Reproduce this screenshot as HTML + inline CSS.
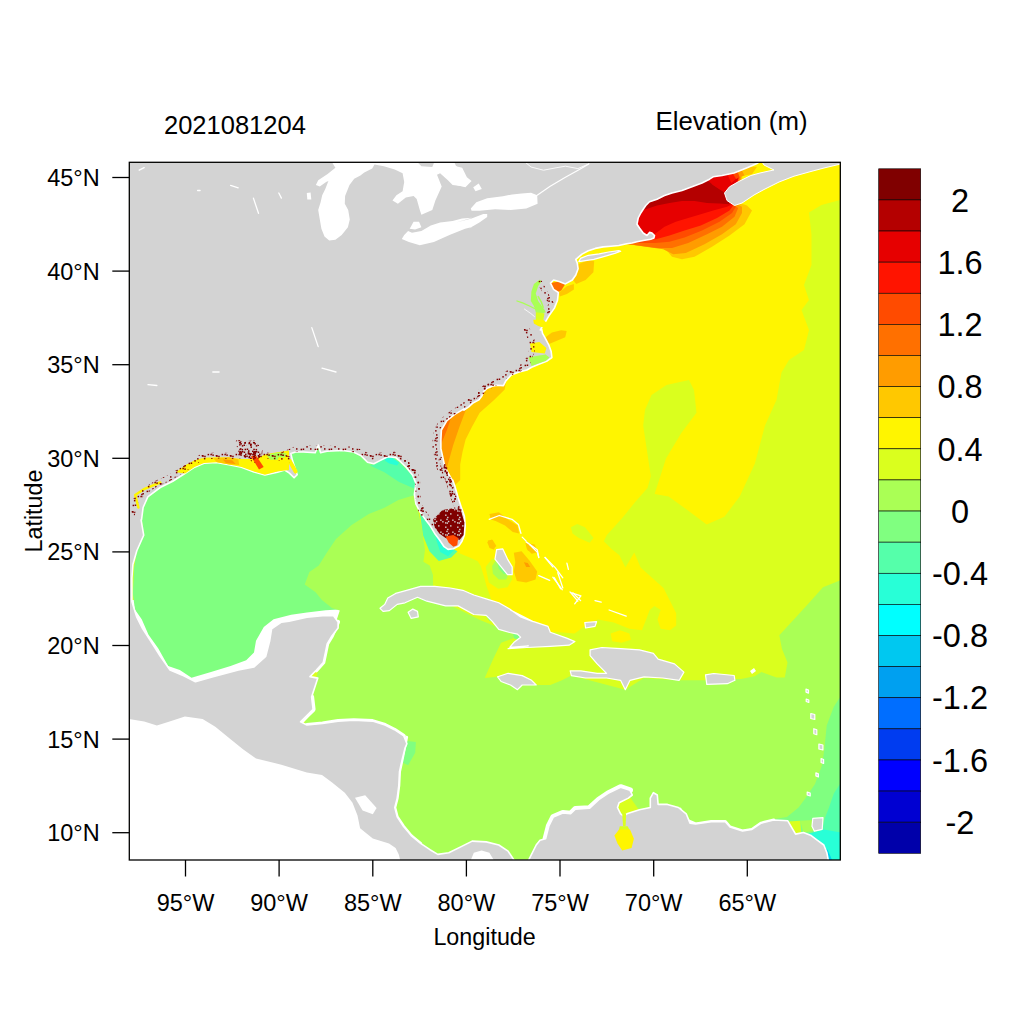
<!DOCTYPE html>
<html><head><meta charset="utf-8"><style>
html,body{margin:0;padding:0;background:#fff;width:1024px;height:1024px;overflow:hidden}
svg text{font-family:"Liberation Sans",sans-serif;fill:#000}
</style></head><body>
<svg width="1024" height="1024" viewBox="0 0 1024 1024" style="position:absolute;left:0;top:0">
<defs><pattern id="dots" width="14" height="14" patternUnits="userSpaceOnUse"><rect x="5.7" y="7.0" width="1.5" height="1.5" fill="#800000"/><rect x="11.6" y="5.8" width="1.5" height="1.5" fill="#800000"/><rect x="6.3" y="7.3" width="1.5" height="1.5" fill="#800000"/><rect x="2.3" y="6.4" width="1.5" height="1.5" fill="#800000"/><rect x="7.9" y="9.9" width="1.5" height="1.5" fill="#800000"/><rect x="1.2" y="3.8" width="1.5" height="1.5" fill="#800000"/><rect x="1.1" y="10.1" width="1.5" height="1.5" fill="#800000"/><rect x="8.7" y="0.5" width="1.5" height="1.5" fill="#800000"/><rect x="12.3" y="12.1" width="1.5" height="1.5" fill="#800000"/><rect x="8.2" y="7.7" width="1.5" height="1.5" fill="#800000"/><rect x="2.0" y="0.2" width="1.5" height="1.5" fill="#800000"/><rect x="6.6" y="0.7" width="1.5" height="1.5" fill="#800000"/><rect x="2.4" y="3.0" width="1.5" height="1.5" fill="#800000"/><rect x="0.4" y="5.8" width="1.5" height="1.5" fill="#800000"/></pattern><pattern id="dots2" width="14" height="14" patternUnits="userSpaceOnUse"><rect x="5.5" y="10.5" width="1.5" height="1.5" fill="#800000"/><rect x="6.5" y="8.0" width="1.5" height="1.5" fill="#800000"/><rect x="6.2" y="8.3" width="1.5" height="1.5" fill="#800000"/><rect x="5.7" y="3.5" width="1.5" height="1.5" fill="#800000"/><rect x="12.5" y="12.4" width="1.5" height="1.5" fill="#800000"/><rect x="10.5" y="8.8" width="1.5" height="1.5" fill="#800000"/><rect x="3.9" y="2.9" width="1.5" height="1.5" fill="#800000"/><rect x="3.6" y="0.9" width="1.5" height="1.5" fill="#800000"/><rect x="9.6" y="5.0" width="1.5" height="1.5" fill="#800000"/><rect x="10.6" y="4.8" width="1.5" height="1.5" fill="#800000"/><rect x="12.0" y="10.6" width="1.5" height="1.5" fill="#800000"/><rect x="0.0" y="2.6" width="1.5" height="1.5" fill="#800000"/><rect x="11.4" y="5.9" width="1.5" height="1.5" fill="#800000"/><rect x="12.3" y="5.0" width="1.5" height="1.5" fill="#800000"/><rect x="0.9" y="7.9" width="1.5" height="1.5" fill="#800000"/><rect x="9.7" y="3.4" width="1.5" height="1.5" fill="#800000"/><rect x="1.1" y="4.2" width="1.5" height="1.5" fill="#800000"/><rect x="12.1" y="9.5" width="1.5" height="1.5" fill="#800000"/><rect x="1.5" y="3.1" width="1.5" height="1.5" fill="#800000"/><rect x="1.3" y="0.7" width="1.5" height="1.5" fill="#800000"/><rect x="10.0" y="2.2" width="1.5" height="1.5" fill="#800000"/><rect x="7.0" y="5.6" width="1.5" height="1.5" fill="#800000"/><rect x="2.4" y="9.1" width="1.5" height="1.5" fill="#800000"/><rect x="1.6" y="8.0" width="1.5" height="1.5" fill="#800000"/><rect x="1.5" y="5.3" width="1.5" height="1.5" fill="#800000"/><rect x="2.7" y="3.4" width="1.5" height="1.5" fill="#800000"/><rect x="12.1" y="10.0" width="1.5" height="1.5" fill="#800000"/><rect x="3.8" y="11.1" width="1.5" height="1.5" fill="#800000"/><rect x="2.6" y="4.9" width="1.5" height="1.5" fill="#800000"/><rect x="10.7" y="8.0" width="1.5" height="1.5" fill="#800000"/></pattern><pattern id="drspeck" width="12" height="12" patternUnits="userSpaceOnUse"><rect width="12" height="12" fill="#800000"/><rect x="1.1" y="10.5" width="1.4" height="1.4" fill="#d3d3d3"/><rect x="2.3" y="2.7" width="1.4" height="1.4" fill="#d3d3d3"/><rect x="8.2" y="3.5" width="1.4" height="1.4" fill="#d3d3d3"/><rect x="3.1" y="0.8" width="1.4" height="1.4" fill="#d3d3d3"/><rect x="1.0" y="6.2" width="1.4" height="1.4" fill="#d3d3d3"/><rect x="2.6" y="6.4" width="1.4" height="1.4" fill="#d3d3d3"/><rect x="3.9" y="4.8" width="1.4" height="1.4" fill="#d3d3d3"/><rect x="10.2" y="5.1" width="1.4" height="1.4" fill="#d3d3d3"/><rect x="6.1" y="9.2" width="1.4" height="1.4" fill="#d3d3d3"/></pattern></defs>
<clipPath id="pc"><rect x="129.3" y="162.3" width="711" height="697.7"/></clipPath>
<g clip-path="url(#pc)"><path d="M129.0 162.0 L841.0 162.0 L841.0 861.0 L129.0 861.0Z" fill="#daff1e"/>
<path d="M129.0 495.0 L129.0 700.0 L260.0 700.0 L345.0 615.0 L345.0 600.0 L129.0 600.0Z" fill="#ffffff"/>
<path d="M416.0 495.0 L430.0 470.0 L400.0 430.0 L129.0 430.0 L129.0 500.0 L144.6 500.0 L140.7 511.7 L143.7 535.2 L136.8 550.8 L133.9 568.4 L132.9 593.8 L134.9 609.4 L141.7 619.2 L148.5 634.8 L158.3 648.5 L168.1 666.0 L179.8 670.0 L191.5 677.8 L211.0 671.9 L230.6 666.0 L246.2 660.2 L254.0 652.4 L256.0 640.7 L263.8 627.0 L273.6 619.2 L291.2 614.8 L306.9 612.5 L325.6 610.2 L338.0 609.4 L360.0 580.0 L400.0 520.0Z" fill="#80ff80"/>
<path d="M416.0 495.0 L409.7 496.6 L398.4 500.0 L384.4 507.8 L368.8 514.0 L351.6 525.0 L336.0 539.0 L326.6 553.1 L318.8 565.6 L309.4 571.9 L304.7 584.4 L315.6 592.2 L321.9 600.0 L332.0 607.9 L339.8 610.5 L336.0 622.0 L327.0 640.0 L321.0 660.0 L313.0 690.0 L306.0 720.0 L295.0 740.0 L300.0 870.0 L850.0 870.0 L850.0 576.4 L823.0 587.3 L809.4 602.4 L795.7 617.4 L779.3 635.2 L782.0 648.9 L787.5 662.5 L784.8 677.6 L776.6 677.6 L761.5 672.1 L754.7 676.2 L741.0 679.0 L705.0 680.3 L679.2 680.3 L644.0 678.0 L625.3 689.7 L571.4 675.6 L562.0 680.3 L550.3 685.0 L536.2 685.0 L497.6 676.8 L484.7 678.0 L494.1 656.9 L501.1 642.8 L519.8 635.8 L480.0 620.0 L440.0 600.0 L433.0 592.0 L433.0 575.0 L429.7 565.6 L423.4 561.7 L425.0 550.0 L422.0 530.0 L418.0 510.0Z" fill="#aaff55"/>
<path d="M450.0 150.0 L845.0 150.0 L845.0 198.8 L821.5 205.0 L809.0 212.5 L811.5 235.0 L811.5 265.0 L804.0 285.0 L809.0 300.0 L801.5 310.0 L809.0 330.0 L804.0 350.0 L789.0 360.0 L781.5 372.5 L776.5 400.0 L765.0 425.4 L754.9 463.5 L739.7 496.5 L724.4 516.8 L706.7 524.4 L686.3 509.2 L668.6 496.5 L654.6 494.0 L666.0 458.4 L681.3 433.0 L696.5 412.7 L694.0 390.0 L689.0 380.0 L666.5 385.0 L651.5 395.0 L645.0 410.0 L643.2 425.4 L650.8 476.2 L647.5 488.1 L635.0 502.2 L622.5 517.8 L606.9 535.0 L603.8 541.2 L611.6 549.1 L619.4 555.3 L625.4 567.6 L634.3 552.4 L640.6 567.6 L663.5 587.9 L676.2 613.3 L676.2 625.6 L670.0 630.3 L660.6 628.8 L657.5 619.4 L660.6 610.0 L654.4 606.1 L649.7 610.0 L645.0 622.5 L641.9 630.3 L629.4 628.8 L613.8 622.5 L598.0 619.4 L585.6 625.6 L574.7 633.4 L556.0 631.9 L548.0 632.0 L530.0 623.0 L510.0 613.0 L491.8 601.0 L488.6 591.8 L486.3 585.5 L484.7 579.2 L482.4 571.4 L480.8 566.0 L477.7 561.3 L471.4 558.2 L463.6 555.0 L458.2 552.7 L430.0 540.0 L430.0 450.0Z" fill="#fff500"/>
<path d="M570.9 527.2 L577.2 524.0 L585.0 527.2 L593.6 538.1 L589.7 542.8 L578.8 538.1 L572.5 533.4Z" fill="#daff1e"/>
<path d="M850.0 690.0 L840.0 697.3 L833.8 706.7 L826.7 725.5 L824.4 748.9 L822.0 765.3 L815.0 784.0 L805.6 798.1 L798.6 807.5 L786.9 816.9 L772.8 819.2 L760.0 830.0 L760.0 870.0 L850.0 870.0Z" fill="#80ff80"/>
<path d="M850.0 784.0 L840.0 784.0 L833.8 793.4 L829.0 807.5 L824.4 819.2 L822.0 831.0 L818.0 845.0 L850.0 850.0Z" fill="#55ffaa"/>
<path d="M800.0 836.0 L823.8 829.4 L850.0 834.0 L850.0 870.0 L800.0 870.0Z" fill="#28ffd7"/>
<path d="M823.0 848.1 L827.7 849.7 L832.3 860.6 L824.5 860.6Z" fill="#00d2f0"/>
<path d="M787.8 821.6 L800.3 820.8 L801.1 832.5 L796.4 835.6Z" fill="#daff1e"/>
<path d="M800.3 820.8 L812.8 820.0 L812.8 830.9 L803.4 832.5Z" fill="#aaff55"/>
<path d="M374.6 464.4 L384.4 458.6 L399.1 462.5 L405.9 469.3 L412.7 475.2 L415.7 481.0 L414.7 488.8 L399.1 482.0 L384.4 472.2 L369.8 465.4Z" fill="#55ffaa"/>
<path d="M384.4 458.6 L391.2 457.1 L399.1 462.5 L397.1 465.4 L389.3 463.4 L385.4 461.0Z" fill="#28ffd7"/>
<path d="M420.0 513.8 L434.1 516.9 L443.4 537.2 L451.2 548.1 L457.5 551.2 L451.2 557.5 L438.8 560.9 L429.4 551.2 L423.1 535.6Z" fill="#55ffaa"/>
<path d="M434.8 529.4 L445.0 543.4 L454.4 549.7 L448.1 556.2 L440.3 552.0 L436.4 540.3Z" fill="#28ffd7"/>
<path d="M506.2 380.0 L504.7 389.4 L493.8 400.3 L479.7 412.8 L471.9 426.9 L465.6 439.4 L462.5 451.9 L460.2 464.4 L460.2 480.0 L455.0 485.0 L446.9 485.0 L446.9 380.0Z" fill="#ffc800"/>
<path d="M465.6 410.5 L459.4 426.9 L453.1 445.6 L446.9 467.5 L443.8 481.6 L439.1 481.6 L439.1 380.0 L465.6 380.0Z" fill="#ff9c00"/>
<path d="M451.6 415.9 L446.9 430.0 L440.6 445.6 L439.1 455.0 L431.2 455.0 L431.2 380.0 L451.6 380.0Z" fill="#ff7000"/>
<path d="M545.6 337.2 L551.9 332.5 L561.2 330.2 L566.7 330.9 L565.2 337.2 L558.1 340.3 L550.3 343.4 L547.2 343.4Z" fill="#ffc800"/>
<path d="M577.8 264.4 L588.8 259.7 L594.2 261.2 L593.4 272.2 L585.6 280.0 L576.2 283.9 L573.1 280.0 L577.0 272.2Z" fill="#ffc800"/>
<path d="M559.1 292.5 L566.9 286.2 L573.9 283.9 L573.9 289.4 L566.9 294.1 L559.8 296.4Z" fill="#ffc800"/>
<path d="M550.5 283.1 L559.1 281.6 L565.3 283.9 L561.4 290.2 L557.5 292.5 L552.8 289.4Z" fill="#ff7000"/>
<path d="M485.6 566.9 L491.9 559.1 L501.2 557.5 L510.6 566.9 L512.2 579.4 L507.5 587.2 L498.1 588.8 L488.8 582.5Z" fill="#daff1e"/>
<path d="M492.1 566.0 L495.7 560.5 L502.7 562.8 L508.5 573.8 L506.2 579.6 L498.8 579.6 L492.9 573.8Z" fill="#aaff55"/>
<path d="M497.2 561.7 L502.7 563.6 L507.8 573.4 L504.2 574.2 L498.8 568.7Z" fill="#80ff80"/>
<path d="M487.2 541.9 L491.9 539.5 L495.0 545.0 L494.2 549.7 L489.5 548.1Z" fill="#ffc800"/>
<path d="M513.8 552.8 L521.6 551.2 L529.4 560.6 L537.2 571.6 L535.6 579.4 L526.2 582.5 L516.9 580.9 L513.8 571.6 L515.3 562.2Z" fill="#ffc800"/>
<path d="M523.9 562.2 L527.8 563.0 L530.2 566.9 L526.2 566.9Z" fill="#ff9c00"/>
<path d="M526.2 545.0 L532.5 544.2 L537.2 549.7 L534.1 552.0 L527.8 550.5Z" fill="#ffc800"/>
<path d="M489.4 513.9 L498.8 512.3 L508.1 519.4 L517.5 525.6 L519.1 533.4 L512.8 531.9 L505.0 525.6 L495.6 520.9 L490.9 519.4Z" fill="#ffc800"/>
<path d="M487.8 540.5 L492.5 539.7 L496.4 545.9 L493.3 549.1 L489.4 546.7Z" fill="#ffc800"/>
<path d="M525.3 542.8 L534.7 544.4 L537.8 552.2 L531.6 553.8 L526.9 549.1Z" fill="#ffc800"/>
<path d="M610.6 633.4 L620.0 630.3 L629.4 633.4 L630.9 639.7 L621.6 642.8 L612.2 641.2Z" fill="#fff500"/>
<path d="M419.1 595.8 L434.7 596.6 L433.1 601.2 L423.8 601.2Z" fill="#80ff80"/>
<path d="M486.2 616.1 L492.5 616.9 L493.3 621.6 L489.4 620.8Z" fill="#80ff80"/>
<path d="M512.8 633.3 L520.6 635.6 L519.8 639.5 L514.4 638.8Z" fill="#80ff80"/>
<path d="M407.3 741.1 L415.9 741.9 L415.2 752.8 L408.1 765.3 L401.9 762.2 L405.0 751.2Z" fill="#80ff80"/>
<path d="M617.5 802.8 L630.0 797.3 L639.4 810.6 L626.9 814.5 L619.8 813.0Z" fill="#daff1e"/>
<path d="M619.5 243.0 L665.8 249.2 L672.0 256.8 L682.0 259.2 L694.5 256.8 L712.0 246.8 L729.5 235.5 L744.5 224.2 L752.0 210.5 L747.0 205.5 L739.5 203.0 L744.5 155.5 L619.5 155.5Z" fill="#ffc800"/>
<path d="M619.5 243.0 L663.2 249.2 L673.2 254.2 L685.8 253.0 L704.5 244.2 L722.0 234.2 L735.8 224.2 L742.0 213.0 L742.0 206.8 L737.0 204.2 L744.5 155.5 L619.5 155.5Z" fill="#ff9c00"/>
<path d="M619.5 243.0 L657.0 248.0 L672.0 248.0 L688.2 243.0 L707.0 234.2 L722.0 226.8 L734.5 216.8 L738.2 208.0 L734.5 205.5 L744.5 155.5 L619.5 155.5Z" fill="#ff7000"/>
<path d="M619.5 243.0 L655.1 243.0 L669.5 241.8 L684.5 237.4 L702.0 230.5 L719.5 221.8 L732.0 213.0 L735.8 206.8 L732.0 204.2 L744.5 155.5 L619.5 155.5Z" fill="#ff4b00"/>
<path d="M619.5 240.5 L655.8 239.2 L669.5 235.5 L684.5 230.5 L700.8 225.5 L717.0 218.0 L729.5 210.5 L733.2 205.5 L732.0 203.0 L744.5 155.5 L619.5 155.5Z" fill="#ff1400"/>
<path d="M619.5 238.0 L654.5 234.2 L664.5 226.8 L675.8 221.8 L688.2 218.0 L700.8 214.2 L713.2 210.5 L727.0 206.8 L730.8 204.9 L744.5 155.5 L619.5 155.5Z" fill="#e60000"/>
<path d="M619.5 209.2 L645.8 209.2 L657.0 205.5 L669.5 203.0 L682.0 201.1 L694.5 201.1 L707.0 203.0 L719.5 203.6 L729.5 204.2 L727.0 193.0 L719.5 189.2 L712.0 184.2 L707.0 155.5 L619.5 155.5Z" fill="#b40000"/>
<path d="M707.0 179.9 L719.5 174.9 L727.0 173.6 L732.0 183.0 L724.5 192.4 L713.2 184.9Z" fill="#e60000"/>
<path d="M727.0 173.6 L732.0 172.4 L736.4 178.6 L731.4 183.0Z" fill="#ff1400"/>
<path d="M732.0 172.4 L737.0 170.8 L740.1 177.0 L736.1 179.0Z" fill="#ff4b00"/>
<path d="M737.0 170.8 L742.0 169.2 L745.1 175.2 L739.8 177.2Z" fill="#ff9c00"/>
<path d="M741.4 169.5 L748.2 166.8 L757.0 166.8 L752.0 174.2 L744.5 175.5Z" fill="#ffc800"/>
<path d="M545.6 838.8 L548.8 826.2 L553.4 816.9 L562.8 813.0 L570.6 813.8 L575.3 809.1 L589.4 808.3 L598.8 799.7 L608.1 793.4 L620.6 787.2 L630.0 790.3" fill="none" stroke="#ffffff" stroke-width="6" stroke-linecap="round" stroke-linejoin="round"/>
<path d="M306.9 725.0 L322.5 723.4 L338.1 721.1 L353.8 720.3 L372.5 721.1 L385.0 725.0 L394.4 729.7 L403.8 735.9" fill="none" stroke="#ffffff" stroke-width="4" stroke-linecap="round" stroke-linejoin="round"/>
<path d="M338.1 621.9 L331.9 635.9 L327.2 643.8 L325.6 651.6 L323.3 662.5 L316.2 670.3" fill="none" stroke="#ffffff" stroke-width="4" stroke-linecap="round" stroke-linejoin="round"/>
<path d="M311.6 696.9 L313.1 709.4 L306.9 715.6 L300.6 721.9" fill="none" stroke="#ffffff" stroke-width="5" stroke-linecap="round" stroke-linejoin="round"/>
<path d="M406.6 737.2 L401.9 760.6 L399.5 771.6 L398.8 785.6 L397.2 798.1 L394.8 807.5 L397.2 816.9 L403.4 826.2 L411.2 835.6 L420.6 843.4" fill="none" stroke="#ffffff" stroke-width="3" stroke-linecap="round" stroke-linejoin="round"/>
<path d="M680.0 809.1 L686.2 820.0 L695.6 823.9 L711.2 821.6 L725.3 821.6 L730.0 827.0 L742.5 830.9 L751.9 829.4 L761.2 823.1 L773.8 820.0" fill="none" stroke="#ffffff" stroke-width="3" stroke-linecap="round" stroke-linejoin="round"/>
<path d="M841.5 157.5 L841.5 163.8 L824.0 168.0 L809.0 172.0 L794.0 176.2 L779.0 182.0 L764.0 189.5 L754.0 195.0 L742.0 203.0 L734.5 205.5 L727.0 200.5 L724.5 193.0 L729.5 186.8 L738.2 181.8 L750.8 175.5 L760.0 173.0 L769.0 171.0 L774.0 170.0 L764.0 165.0 L759.0 157.5Z" fill="#d3d3d3" stroke="#ffffff" stroke-width="1" stroke-linejoin="round"/>
<path d="M759.0 150.0 L759.0 162.0 L756.5 163.8 L746.5 168.0 L734.0 173.0 L722.0 175.5 L713.2 176.8 L709.5 179.2 L702.0 183.0 L692.0 186.8 L682.0 190.5 L672.0 193.0 L664.5 195.5 L657.0 199.2 L649.5 201.8 L645.8 205.5 L643.2 209.2 L640.8 213.0 L638.2 218.0 L637.0 224.2 L639.5 228.0 L643.2 233.0 L647.0 235.5 L649.5 232.4 L652.0 233.0 L654.5 235.5 L653.9 238.0 L650.8 239.2 L643.2 240.5 L637.0 241.8 L632.0 243.0 L626.6 243.8 L618.8 245.5 L610.9 246.2 L603.1 246.9 L595.3 248.4 L588.3 250.8 L582.0 254.1 L575.8 259.4 L577.3 263.3 L578.1 268.8 L575.8 275.0 L572.3 280.0 L565.3 283.9 L559.1 281.6 L553.6 280.0 L550.5 283.1 L553.6 289.4 L558.3 292.5 L557.5 300.3 L554.4 308.1 L548.9 315.9 L544.2 323.8 L540.3 330.0 L541.7 329.4 L542.5 333.3 L545.6 338.8 L548.8 345.0 L551.1 351.2 L551.9 357.5 L547.2 360.9 L539.4 364.1 L531.6 367.2 L526.9 370.0 L519.1 371.9 L511.2 375.0 L505.8 380.9 L503.4 385.6 L496.8 385.3 L492.1 386.3 L487.4 388.2 L483.7 391.4 L481.8 396.1 L479.0 399.9 L473.4 402.7 L468.7 406.9 L464.0 410.2 L464.1 408.9 L454.7 414.4 L446.9 420.6 L441.4 430.0 L440.9 439.4 L440.9 448.8 L443.0 458.1 L445.0 467.5 L452.0 480.0 L452.7 480.0 L455.0 486.6 L458.1 497.5 L461.2 506.9 L464.4 516.2 L465.2 525.6 L464.4 535.0 L462.0 541.2 L458.9 545.9 L453.4 548.8 L448.0 549.4 L444.1 546.7 L439.4 539.7 L434.7 533.4 L430.0 525.6 L425.3 519.4 L419.8 511.6 L415.9 503.8 L414.4 494.4 L415.9 483.4 L412.8 475.6 L406.6 467.8 L398.8 460.0 L395.6 457.5 L387.8 456.7 L380.0 460.6 L373.8 463.8 L367.5 462.2 L361.2 455.9 L353.4 452.0 L342.5 450.5 L326.9 451.2 L320.6 452.8 L318.3 445.0 L315.2 452.8 L303.4 452.0 L295.6 452.0 L290.9 453.6 L292.5 460.6 L297.2 474.7 L294.1 477.8 L289.4 473.1 L284.7 470.0 L277.4 472.3 L264.9 475.0 L254.0 471.9 L241.5 467.2 L229.0 464.8 L216.5 462.5 L204.0 463.3 L194.6 467.2 L185.2 473.4 L172.8 481.2 L160.2 487.5 L147.8 496.9 L143.1 507.5 L141.5 520.0 L141.1 519.9 L143.7 535.2 L136.8 550.8 L132.9 564.5 L131.9 578.1 L131.9 601.6 L136.8 617.2 L142.7 628.9 L150.5 640.7 L160.3 656.3 L170.0 670.0 L183.7 675.8 L195.4 681.7 L213.0 676.8 L238.4 670.0 L254.0 667.0 L265.7 656.3 L269.7 640.7 L271.6 628.9 L281.4 622.1 L289.0 621.1 L306.9 617.2 L322.5 615.6 L333.4 615.6 L338.1 621.9 L338.1 628.1 L331.9 635.9 L327.2 643.8 L325.6 651.6 L323.3 662.5 L316.2 670.3 L310.0 676.6 L317.8 678.1 L311.6 696.9 L313.1 709.4 L306.9 715.6 L300.6 721.9 L306.9 725.0 L322.5 723.4 L338.1 721.1 L353.8 720.3 L372.5 721.1 L385.0 725.0 L394.4 729.7 L403.8 735.9 L406.9 743.8 L405.0 748.1 L401.9 760.6 L399.5 771.6 L398.8 785.6 L397.2 798.1 L394.8 807.5 L397.2 816.9 L403.4 826.2 L411.2 835.6 L420.6 843.4 L430.0 849.7 L437.8 854.4 L448.8 852.8 L461.2 846.6 L472.2 841.1 L486.2 841.9 L498.8 845.0 L508.1 851.2 L514.4 860.6 L528.4 860.6 L536.2 845.0 L540.0 840.3 L545.6 838.8 L548.8 826.2 L553.4 816.9 L562.8 813.0 L570.6 813.8 L575.3 809.1 L589.4 808.3 L598.8 799.7 L608.1 793.4 L620.6 787.2 L630.0 790.3 L632.3 795.0 L628.4 798.1 L619.1 802.8 L617.5 807.5 L620.6 813.8 L623.8 816.1 L626.9 813.8 L639.4 809.8 L650.3 807.5 L650.3 798.1 L653.4 792.7 L657.3 795.0 L658.1 804.4 L667.5 804.4 L678.4 807.5 L686.2 813.8 L690.0 823.1 L695.6 823.9 L711.2 821.6 L725.3 821.6 L730.0 827.0 L742.5 830.9 L751.9 829.4 L761.2 823.1 L773.8 820.0 L787.8 820.8 L795.6 834.1 L803.4 832.5 L811.2 835.6 L817.5 840.3 L823.8 845.0 L826.9 852.8 L828.4 860.6 L860.0 870.0 L120.0 870.0 L120.0 150.0 L759.0 150.0Z" fill="#d3d3d3" stroke="#ffffff" stroke-width="1.6" stroke-linejoin="round"/>
<path d="M578.9 261.6 L580.5 258.4 L588.3 255.3 L599.2 253.8 L608.6 252.0 L618.8 250.6 L620.8 251.2 L614.8 253.4 L605.5 256.1 L593.8 259.4Z" fill="#d3d3d3" stroke="#ffffff" stroke-width="1.2" stroke-linejoin="round"/>
<path d="M380.0 608.3 L384.7 604.4 L387.8 598.1 L395.6 593.4 L406.6 590.3 L420.6 586.4 L434.7 586.4 L450.3 588.0 L462.8 590.3 L473.8 595.0 L486.2 598.9 L498.8 602.8 L509.7 609.1 L520.6 616.9 L533.1 621.6 L510.5 610.0 L526.9 619.4 L548.0 626.4 L550.3 632.3 L566.7 638.1 L574.9 641.6 L569.1 645.2 L550.3 646.3 L526.9 647.5 L508.1 648.7 L528.4 645.8 L509.7 647.3 L514.4 641.9 L520.6 637.2 L517.5 634.1 L509.7 632.5 L498.8 629.4 L492.5 621.6 L486.2 615.3 L473.8 614.5 L458.1 605.9 L445.6 605.9 L426.9 601.2 L417.5 597.3 L405.0 602.8 L397.2 604.4 L389.4 610.6 L383.1 611.4Z" fill="#d3d3d3" stroke="#ffffff" stroke-width="1.2" stroke-linejoin="round"/>
<path d="M408.1 612.2 L412.8 609.1 L417.5 611.4 L418.3 616.9 L411.2 618.4Z" fill="#d3d3d3" stroke="#ffffff" stroke-width="1.2" stroke-linejoin="round"/>
<path d="M497.6 676.8 L508.1 673.3 L522.2 675.6 L531.6 680.3 L536.2 685.0 L522.2 685.0 L517.5 689.7 L510.5 685.0 L501.1 681.5Z" fill="#d3d3d3" stroke="#ffffff" stroke-width="1.2" stroke-linejoin="round"/>
<path d="M590.1 649.8 L601.9 647.5 L620.6 648.7 L639.4 649.8 L653.4 653.4 L658.1 659.2 L674.5 663.9 L683.9 672.1 L679.2 680.3 L662.8 678.0 L644.0 676.8 L630.0 680.3 L625.3 689.7 L620.6 680.3 L606.6 678.0 L585.5 678.0 L571.4 675.6 L570.2 670.9 L580.8 670.9 L597.2 673.3 L606.6 673.3 L597.2 663.9 L590.1 655.7Z" fill="#d3d3d3" stroke="#ffffff" stroke-width="1.2" stroke-linejoin="round"/>
<path d="M705.5 674.8 L713.7 673.5 L734.2 675.5 L734.9 680.3 L727.3 683.7 L706.8 684.4Z" fill="#d3d3d3" stroke="#ffffff" stroke-width="1.2" stroke-linejoin="round"/>
<path d="M812.8 818.4 L823.0 817.7 L822.2 829.4 L814.4 831.2 L812.0 826.2Z" fill="#d3d3d3" stroke="#ffffff" stroke-width="1.2" stroke-linejoin="round"/>
<path d="M584.8 622.5 L596.6 621.7 L595.0 626.4 L585.6 628.0Z" fill="#d3d3d3" stroke="#ffffff" stroke-width="1.2" stroke-linejoin="round"/>
<path d="M496.6 549.7 L502.8 548.9 L507.5 559.1 L512.2 566.9 L512.2 574.7 L507.5 574.7 L501.2 566.9 L495.0 559.1Z" fill="#d3d3d3" stroke="#ffffff" stroke-width="1.2" stroke-linejoin="round"/>
<path d="M806.0 689.1 L808.5 690.1 L808.5 693.1 L806.0 692.1Z" fill="#d3d3d3" stroke="#ffffff" stroke-width="1.2" stroke-linejoin="round"/>
<path d="M806.2 699.0 L808.8 700.0 L808.8 702.5 L806.2 701.5Z" fill="#d3d3d3" stroke="#ffffff" stroke-width="1.2" stroke-linejoin="round"/>
<path d="M810.8 713.5 L814.8 714.5 L814.8 719.5 L810.8 718.5Z" fill="#d3d3d3" stroke="#ffffff" stroke-width="1.2" stroke-linejoin="round"/>
<path d="M813.8 728.7 L816.8 729.7 L816.8 734.7 L813.8 733.7Z" fill="#d3d3d3" stroke="#ffffff" stroke-width="1.2" stroke-linejoin="round"/>
<path d="M818.9 744.0 L822.9 745.0 L822.9 750.0 L818.9 749.0Z" fill="#d3d3d3" stroke="#ffffff" stroke-width="1.2" stroke-linejoin="round"/>
<path d="M821.1 758.5 L823.6 759.5 L823.6 763.5 L821.1 762.5Z" fill="#d3d3d3" stroke="#ffffff" stroke-width="1.2" stroke-linejoin="round"/>
<path d="M815.9 772.9 L818.4 773.9 L818.4 776.9 L815.9 775.9Z" fill="#d3d3d3" stroke="#ffffff" stroke-width="1.2" stroke-linejoin="round"/>
<path d="M807.2 792.0 L810.2 793.0 L810.2 796.0 L807.2 795.0Z" fill="#d3d3d3" stroke="#ffffff" stroke-width="1.2" stroke-linejoin="round"/>
<path d="M622.2 813.8 L626.1 813.8 L625.6 826.2 L623.1 826.2Z" fill="#daff1e"/>
<path d="M619.8 826.2 L627.7 826.2 L630.8 832.5 L618.3 832.5Z" fill="#daff1e"/>
<path d="M619.1 829.4 L630.0 829.4 L633.9 838.8 L631.6 848.1 L622.2 850.5 L617.5 843.4 L614.4 835.6Z" fill="#fff500"/>
<path d="M433.1 519.4 L442.5 510.0 L451.9 508.4 L461.2 511.6 L464.4 522.5 L463.6 535.0 L459.7 539.7 L453.4 541.2 L445.6 538.1 L439.4 533.4 L434.7 527.2Z" fill="url(#drspeck)"/>
<path d="M445.6 536.6 L453.4 535.0 L458.1 538.1 L457.3 545.2 L453.4 546.7 L448.8 542.8Z" fill="#ff4b00"/>
<path d="M539.5 279.8 L542.0 281.0 L538.2 286.0 L535.8 293.5 L538.2 301.0 L541.4 305.4 L544.5 309.8 L545.8 312.2 L542.0 313.5 L538.9 314.8 L535.8 312.2 L533.9 306.0 L530.8 301.0 L531.4 291.6 L533.9 284.1Z" fill="#aaff55"/>
<path d="M535.8 312.2 L542.0 312.9 L544.5 313.5 L543.2 321.0 L535.8 321.0Z" fill="#daff1e"/>
<path d="M533.2 319.8 L543.2 319.8 L548.2 324.1 L544.5 327.9 L538.2 326.0 L533.9 323.5Z" fill="#fff500"/>
<path d="M517.0 301.0 L522.6 302.9 L529.5 306.0 L534.5 308.5" fill="none" stroke="#aaff55" stroke-width="1.3" stroke-linecap="round" stroke-linejoin="round"/>
<path d="M524.5 309.1 L530.8 313.5 L534.5 316.6" fill="none" stroke="#ffffff" stroke-width="0.8" stroke-linecap="round" stroke-linejoin="round"/>
<path d="M538.2 296.6 L541.4 302.2 L543.2 307.2" fill="none" stroke="#aaff55" stroke-width="1.5" stroke-linecap="round" stroke-linejoin="round"/>
<path d="M528.4 357.5 L536.2 355.9 L545.6 354.4 L549.5 357.5 L545.6 360.9 L537.8 363.8 L531.6 366.1Z" fill="#aaff55"/>
<path d="M530.0 343.4 L539.4 341.9 L546.4 348.1 L544.8 353.6 L531.6 352.0Z" fill="#fff500"/>
<path d="M175.9 472.3 L185.2 465.3 L194.6 460.3 L204.0 457.8 L216.5 457.2 L229.0 457.5 L241.5 459.1 L254.0 459.1 L266.5 454.1 L279.0 452.0 L289.0 450.5 L289.0 470.0 L277.4 471.6 L264.9 474.7 L254.0 471.6 L241.5 466.9 L229.0 464.5 L216.5 462.2 L204.0 463.0 L194.6 466.9 L185.2 473.4Z" fill="#fff500"/>
<path d="M213.4 458.3 L229.0 457.2 L238.4 459.4 L239.2 465.0 L229.0 464.4 L216.5 461.9Z" fill="#ffc800"/>
<path d="M222.8 459.4 L232.1 460.3 L235.6 464.1 L225.9 463.1Z" fill="#ff9c00"/>
<path d="M250.9 456.2 L255.9 455.3 L263.7 466.9 L259.0 469.4Z" fill="#ff4b00"/>
<path d="M266.5 454.7 L279.0 452.5 L286.8 453.6 L282.9 459.8 L270.4 459.8Z" fill="#aaff55"/>
<path d="M238.4 441.9 L254.0 440.3 L262.6 448.9 L261.8 459.1 L247.8 459.1 L238.4 454.7Z" fill="url(#dots2)"/>
<path d="M280.0 459.1 L289.4 460.6 L295.6 471.6" fill="none" stroke="#fff500" stroke-width="4" stroke-linecap="round" stroke-linejoin="round"/>
<path d="M138.4 507.5 L135.2 495.0 L144.6 488.8 L160.2 482.5" fill="none" stroke="#fff500" stroke-width="2.5" stroke-linecap="round" stroke-linejoin="round"/>
<path d="M132.1 513.8 L135.2 501.2 L143.1 491.9 L155.6 484.1 L169.6 477.8 L182.1 470.0 L191.5 463.8 L200.9 457.5 L216.5 455.2 L229.0 455.9 L241.5 455.2 L254.0 453.6 L269.6 455.9 L289.0 459.1" fill="none" stroke="url(#dots)" stroke-width="6" stroke-linecap="round" stroke-linejoin="round"/>
<path d="M238.4 443.4 L247.8 451.2 L254.0 459.1" fill="none" stroke="url(#dots)" stroke-width="7" stroke-linecap="round" stroke-linejoin="round"/>
<path d="M280.0 455.9 L295.6 448.9 L311.2 448.1 L326.9 448.1 L350.3 448.9 L361.2 452.0 L370.6 457.5 L380.0 455.2 L392.5 453.6 L401.9 458.3 L409.7 465.3 L415.9 474.7 L418.3 487.2 L418.3 501.2 L422.2 515.3" fill="none" stroke="url(#dots)" stroke-width="5" stroke-linecap="round" stroke-linejoin="round"/>
<path d="M403.4 460.0 L412.8 469.4 L418.3 480.3 L417.5 494.4 L419.8 505.3 L426.9 516.2 L433.9 525.6" fill="none" stroke="url(#dots)" stroke-width="4" stroke-linecap="round" stroke-linejoin="round"/>
<path d="M441.7 460.0 L445.6 472.5 L449.5 483.4 L452.7 494.4 L455.8 503.8 L459.7 513.1" fill="none" stroke="url(#dots2)" stroke-width="6" stroke-linecap="round" stroke-linejoin="round"/>
<path d="M487.5 384.7 L478.1 394.1 L468.8 401.9 L459.4 408.1 L450.0 414.4 L442.2 420.6 L436.7 430.0 L435.2 439.4 L434.7 448.8 L436.2 458.1 L439.1 467.5 L443.0 480.0" fill="none" stroke="url(#dots)" stroke-width="5" stroke-linecap="round" stroke-linejoin="round"/>
<path d="M526.9 329.4 L531.6 340.3 L531.6 351.2 L526.9 363.8 L517.5 370.0 L508.1 373.1 L500.3 379.4 L492.5 384.1 L484.7 388.8 L480.0 393.4" fill="none" stroke="url(#dots)" stroke-width="6" stroke-linecap="round" stroke-linejoin="round"/>
<path d="M540.3 283.1 L546.6 295.6 L551.2 303.4 L548.1 311.2" fill="none" stroke="url(#dots)" stroke-width="5" stroke-linecap="round" stroke-linejoin="round"/>
<path d="M129.0 719.0 L144.2 721.6 L156.9 725.4 L169.6 721.6 L184.9 716.5 L202.6 719.0 L215.3 726.7 L230.6 739.3 L243.3 749.5 L256.0 758.4 L281.4 764.7 L306.8 772.4 L322.0 774.9 L332.1 782.5 L344.8 792.7 L352.5 802.8 L357.5 815.5 L360.1 828.2 L372.8 838.4 L389.0 843.5 L395.6 848.1 L398.8 854.4 L400.3 860.6 L120.0 900.0 L120.0 718.0Z" fill="#ffffff"/>
<path d="M470.6 860.6 L473.8 852.8 L481.6 850.5 L489.4 852.8 L494.1 860.6Z" fill="#ffffff"/>
<path d="M355.0 797.8 L365.2 795.2 L376.6 807.9 L372.8 814.3 L362.6 810.5Z" fill="#ffffff"/>
<path d="M330.8 158.4 L332.3 162.8 L335.4 167.8 L327.6 174.1 L318.2 180.3 L315.9 185.0 L319.8 186.6 L326.1 181.9 L328.4 181.1 L325.3 188.9 L322.2 195.2 L320.6 202.2 L318.2 210.0 L319.8 219.4 L321.4 228.8 L324.5 236.6 L329.2 240.5 L335.4 239.7 L341.7 235.0 L347.9 227.2 L349.8 219.4 L348.2 210.0 L344.8 203.8 L345.1 195.9 L349.5 185.0 L354.2 178.8 L360.4 175.6 L364.3 172.5 L372.2 168.6 L374.5 164.4 L383.9 166.2 L394.8 169.4 L402.6 173.3 L404.2 181.9 L402.6 191.2 L396.4 195.2 L392.5 200.6 L397.9 203.8 L405.8 197.5 L413.6 195.9 L416.7 199.1 L419.8 210.0 L421.4 214.7 L432.3 210.0 L435.4 200.6 L441.7 186.6 L437.0 174.8 L440.1 173.3 L447.9 180.3 L452.6 185.0 L465.1 186.6 L466.7 180.3 L462.0 172.5 L455.8 165.5 L452.6 158.4Z" fill="#ffffff"/>
<path d="M456.0 166.2 L462.2 167.8 L466.9 177.2 L471.6 181.1 L465.4 187.3 L456.0 185.0Z" fill="#ffffff"/>
<path d="M473.2 187.3 L478.7 183.4 L481.8 188.9 L475.5 191.2Z" fill="#ffffff"/>
<path d="M401.8 238.9 L408.9 242.0 L419.8 245.2 L433.9 242.0 L449.5 235.0 L465.1 228.8 L472.0 226.9 L468.5 228.8 L479.4 222.5 L487.2 217.0 L487.2 213.9 L483.3 213.9 L471.6 218.6 L456.0 222.5 L472.0 217.8 L462.0 218.6 L452.6 220.9 L440.1 222.5 L430.8 225.6 L421.4 231.1 L412.0 232.7 L408.1 231.1 L404.2 235.0Z" fill="#ffffff"/>
<path d="M409.7 228.8 L413.6 221.7 L419.0 221.7 L421.4 227.2 L415.1 229.5Z" fill="#ffffff"/>
<path d="M470.8 208.4 L476.3 202.2 L487.2 198.3 L502.9 196.2 L512.2 194.4 L521.6 193.6 L531.0 192.8 L537.2 195.2 L537.6 203.8 L526.3 208.4 L510.7 210.0 L495.1 209.2 L479.4 210.8 L471.6 210.8Z" fill="#ffffff"/>
<path d="M537.2 195.2 L549.8 186.6 L565.4 177.2 L579.4 169.4 L588.8 163.9" fill="none" stroke="#ffffff" stroke-width="1.2" stroke-linecap="round" stroke-linejoin="round"/>
<path d="M526.3 163.1 L531.0 167.0 L543.5 170.2 L556.0 167.8 L565.4 166.2 L577.9 168.6 L588.8 163.9" fill="none" stroke="#ffffff" stroke-width="0.9" stroke-linecap="round" stroke-linejoin="round"/>
<path d="M489.2 519.3 L499.3 515.5 L512.0 519.3 L518.4 524.4 L520.9 533.3" fill="none" stroke="#ffffff" stroke-width="1.3" stroke-linecap="round" stroke-linejoin="round"/>
<path d="M529.8 544.7 L537.4 552.4 L538.7 557.4" fill="none" stroke="#ffffff" stroke-width="1.3" stroke-linecap="round" stroke-linejoin="round"/>
<path d="M545.1 557.4 L555.2 567.6 L562.8 577.8" fill="none" stroke="#ffffff" stroke-width="1.3" stroke-linecap="round" stroke-linejoin="round"/>
<path d="M557.8 572.7 L562.8 587.9" fill="none" stroke="#ffffff" stroke-width="1.3" stroke-linecap="round" stroke-linejoin="round"/>
<path d="M573.0 593.0 L580.6 600.6" fill="none" stroke="#ffffff" stroke-width="1.3" stroke-linecap="round" stroke-linejoin="round"/>
<path d="M522.2 537.1 L526.0 540.9" fill="none" stroke="#ffffff" stroke-width="1.3" stroke-linecap="round" stroke-linejoin="round"/>
<path d="M538.8 575.6 L549.7 580.3" fill="none" stroke="#ffffff" stroke-width="1.3" stroke-linecap="round" stroke-linejoin="round"/>
<path d="M552.8 577.2 L562.2 589.7" fill="none" stroke="#ffffff" stroke-width="1.3" stroke-linecap="round" stroke-linejoin="round"/>
<path d="M571.6 592.8 L580.9 595.9 L574.7 603.8" fill="none" stroke="#ffffff" stroke-width="1.3" stroke-linecap="round" stroke-linejoin="round"/>
<path d="M595.0 600.6 L601.2 602.2" fill="none" stroke="#ffffff" stroke-width="1.3" stroke-linecap="round" stroke-linejoin="round"/>
<path d="M609.1 610.0 L626.2 616.2" fill="none" stroke="#ffffff" stroke-width="1.3" stroke-linecap="round" stroke-linejoin="round"/>
<path d="M566.9 563.1 L568.4 569.4" fill="none" stroke="#ffffff" stroke-width="1.3" stroke-linecap="round" stroke-linejoin="round"/>
<path d="M526.2 541.9 L537.2 549.7 L538.8 557.5" fill="none" stroke="#ffffff" stroke-width="1.3" stroke-linecap="round" stroke-linejoin="round"/>
<path d="M545.0 557.5 L552.8 566.9" fill="none" stroke="#ffffff" stroke-width="1.3" stroke-linecap="round" stroke-linejoin="round"/>
<path d="M554.4 577.8 L560.6 588.8" fill="none" stroke="#ffffff" stroke-width="1.3" stroke-linecap="round" stroke-linejoin="round"/>
<path d="M570.0 591.9 L577.8 601.2" fill="none" stroke="#ffffff" stroke-width="1.3" stroke-linecap="round" stroke-linejoin="round"/>
<path d="M230.6 185.4 L238.2 187.9" fill="none" stroke="#ffffff" stroke-width="1.3" stroke-linecap="round" stroke-linejoin="round"/>
<path d="M253.4 198.1 L258.5 213.3" fill="none" stroke="#ffffff" stroke-width="1.3" stroke-linecap="round" stroke-linejoin="round"/>
<path d="M278.8 193.0 L281.4 198.1" fill="none" stroke="#ffffff" stroke-width="1.3" stroke-linecap="round" stroke-linejoin="round"/>
<path d="M311.8 327.6 L318.2 346.6" fill="none" stroke="#ffffff" stroke-width="1.3" stroke-linecap="round" stroke-linejoin="round"/>
<path d="M322.0 368.2 L336.0 372.0" fill="none" stroke="#ffffff" stroke-width="1.3" stroke-linecap="round" stroke-linejoin="round"/>
<path d="M148.0 384.7 L156.9 385.5" fill="none" stroke="#ffffff" stroke-width="1.3" stroke-linecap="round" stroke-linejoin="round"/>
<path d="M212.8 372.0 L219.1 372.0" fill="none" stroke="#ffffff" stroke-width="1.3" stroke-linecap="round" stroke-linejoin="round"/>
<path d="M139.2 170.2 L144.2 167.6" fill="none" stroke="#ffffff" stroke-width="1.3" stroke-linecap="round" stroke-linejoin="round"/>
<path d="M197.6 190.5 L200.1 190.5" fill="none" stroke="#ffffff" stroke-width="1.3" stroke-linecap="round" stroke-linejoin="round"/>
<path d="M306.8 193.0 L310.6 192.5 L311.3 199.4 L307.3 199.4Z" fill="#ffffff"/>
<path d="M750.0 671.0 L754.0 668.0 L756.0 671.0 L752.0 674.0Z" fill="#ffffff"/>
<path d="M418.2 163.1 L433.9 163.1 L432.3 167.0 L421.4 166.2Z" fill="#d3d3d3"/></g>
<rect x="129.3" y="162.3" width="711" height="697.7" fill="none" stroke="#000" stroke-width="1.3"/>
<line x1="112.3" y1="177.5" x2="129.3" y2="177.5" stroke="#000" stroke-width="1.3"/>
<text x="99.7" y="185.9" text-anchor="end" font-size="23.5">45°N</text>
<line x1="112.3" y1="271.1" x2="129.3" y2="271.1" stroke="#000" stroke-width="1.3"/>
<text x="99.7" y="279.5" text-anchor="end" font-size="23.5">40°N</text>
<line x1="112.3" y1="364.7" x2="129.3" y2="364.7" stroke="#000" stroke-width="1.3"/>
<text x="99.7" y="373.1" text-anchor="end" font-size="23.5">35°N</text>
<line x1="112.3" y1="458.3" x2="129.3" y2="458.3" stroke="#000" stroke-width="1.3"/>
<text x="99.7" y="466.7" text-anchor="end" font-size="23.5">30°N</text>
<line x1="112.3" y1="551.9" x2="129.3" y2="551.9" stroke="#000" stroke-width="1.3"/>
<text x="99.7" y="560.3" text-anchor="end" font-size="23.5">25°N</text>
<line x1="112.3" y1="645.5" x2="129.3" y2="645.5" stroke="#000" stroke-width="1.3"/>
<text x="99.7" y="653.9" text-anchor="end" font-size="23.5">20°N</text>
<line x1="112.3" y1="739.1" x2="129.3" y2="739.1" stroke="#000" stroke-width="1.3"/>
<text x="99.7" y="747.5" text-anchor="end" font-size="23.5">15°N</text>
<line x1="112.3" y1="832.7" x2="129.3" y2="832.7" stroke="#000" stroke-width="1.3"/>
<text x="99.7" y="841.1" text-anchor="end" font-size="23.5">10°N</text>
<line x1="185.5" y1="860" x2="185.5" y2="876.5" stroke="#000" stroke-width="1.3"/>
<text x="185.5" y="911" text-anchor="middle" font-size="23.5">95°W</text>
<line x1="279.1" y1="860" x2="279.1" y2="876.5" stroke="#000" stroke-width="1.3"/>
<text x="279.1" y="911" text-anchor="middle" font-size="23.5">90°W</text>
<line x1="372.8" y1="860" x2="372.8" y2="876.5" stroke="#000" stroke-width="1.3"/>
<text x="372.8" y="911" text-anchor="middle" font-size="23.5">85°W</text>
<line x1="466.4" y1="860" x2="466.4" y2="876.5" stroke="#000" stroke-width="1.3"/>
<text x="466.4" y="911" text-anchor="middle" font-size="23.5">80°W</text>
<line x1="560.0" y1="860" x2="560.0" y2="876.5" stroke="#000" stroke-width="1.3"/>
<text x="560.0" y="911" text-anchor="middle" font-size="23.5">75°W</text>
<line x1="653.7" y1="860" x2="653.7" y2="876.5" stroke="#000" stroke-width="1.3"/>
<text x="653.7" y="911" text-anchor="middle" font-size="23.5">70°W</text>
<line x1="747.3" y1="860" x2="747.3" y2="876.5" stroke="#000" stroke-width="1.3"/>
<text x="747.3" y="911" text-anchor="middle" font-size="23.5">65°W</text>
<rect x="878.7" y="168.80" width="42" height="31.11" fill="#800000" stroke="#000" stroke-width="0.6"/>
<rect x="878.7" y="199.91" width="42" height="31.11" fill="#b40000" stroke="#000" stroke-width="0.6"/>
<rect x="878.7" y="231.03" width="42" height="31.11" fill="#e60000" stroke="#000" stroke-width="0.6"/>
<rect x="878.7" y="262.14" width="42" height="31.11" fill="#ff1400" stroke="#000" stroke-width="0.6"/>
<rect x="878.7" y="293.25" width="42" height="31.11" fill="#ff4b00" stroke="#000" stroke-width="0.6"/>
<rect x="878.7" y="324.37" width="42" height="31.11" fill="#ff7000" stroke="#000" stroke-width="0.6"/>
<rect x="878.7" y="355.48" width="42" height="31.11" fill="#ff9c00" stroke="#000" stroke-width="0.6"/>
<rect x="878.7" y="386.60" width="42" height="31.11" fill="#ffc800" stroke="#000" stroke-width="0.6"/>
<rect x="878.7" y="417.71" width="42" height="31.11" fill="#fff500" stroke="#000" stroke-width="0.6"/>
<rect x="878.7" y="448.82" width="42" height="31.11" fill="#daff1e" stroke="#000" stroke-width="0.6"/>
<rect x="878.7" y="479.94" width="42" height="31.11" fill="#aaff55" stroke="#000" stroke-width="0.6"/>
<rect x="878.7" y="511.05" width="42" height="31.11" fill="#80ff80" stroke="#000" stroke-width="0.6"/>
<rect x="878.7" y="542.16" width="42" height="31.11" fill="#55ffaa" stroke="#000" stroke-width="0.6"/>
<rect x="878.7" y="573.28" width="42" height="31.11" fill="#28ffd7" stroke="#000" stroke-width="0.6"/>
<rect x="878.7" y="604.39" width="42" height="31.11" fill="#00ffff" stroke="#000" stroke-width="0.6"/>
<rect x="878.7" y="635.50" width="42" height="31.11" fill="#00c8f0" stroke="#000" stroke-width="0.6"/>
<rect x="878.7" y="666.62" width="42" height="31.11" fill="#00a0f0" stroke="#000" stroke-width="0.6"/>
<rect x="878.7" y="697.73" width="42" height="31.11" fill="#006eff" stroke="#000" stroke-width="0.6"/>
<rect x="878.7" y="728.85" width="42" height="31.11" fill="#003cf0" stroke="#000" stroke-width="0.6"/>
<rect x="878.7" y="759.96" width="42" height="31.11" fill="#0000ff" stroke="#000" stroke-width="0.6"/>
<rect x="878.7" y="791.07" width="42" height="31.11" fill="#0000d2" stroke="#000" stroke-width="0.6"/>
<rect x="878.7" y="822.19" width="42" height="31.11" fill="#0000aa" stroke="#000" stroke-width="0.6"/>
<text x="960" y="211.6" text-anchor="middle" font-size="32.5">2</text>
<text x="960" y="273.8" text-anchor="middle" font-size="32.5">1.6</text>
<text x="960" y="336.1" text-anchor="middle" font-size="32.5">1.2</text>
<text x="960" y="398.3" text-anchor="middle" font-size="32.5">0.8</text>
<text x="960" y="460.5" text-anchor="middle" font-size="32.5">0.4</text>
<text x="960" y="522.8" text-anchor="middle" font-size="32.5">0</text>
<text x="960" y="585.0" text-anchor="middle" font-size="32.5">-0.4</text>
<text x="960" y="647.2" text-anchor="middle" font-size="32.5">-0.8</text>
<text x="960" y="709.4" text-anchor="middle" font-size="32.5">-1.2</text>
<text x="960" y="771.7" text-anchor="middle" font-size="32.5">-1.6</text>
<text x="960" y="833.9" text-anchor="middle" font-size="32.5">-2</text>
<text x="164" y="133.6" font-size="25.5">2021081204</text>
<text x="807.5" y="129.8" text-anchor="end" font-size="25.8">Elevation (m)</text>
<text transform="translate(41.9,511) rotate(-90)" text-anchor="middle" font-size="23.3">Latitude</text>
<text x="484.6" y="945.1" text-anchor="middle" font-size="23.3">Longitude</text>
</svg>
</body></html>
